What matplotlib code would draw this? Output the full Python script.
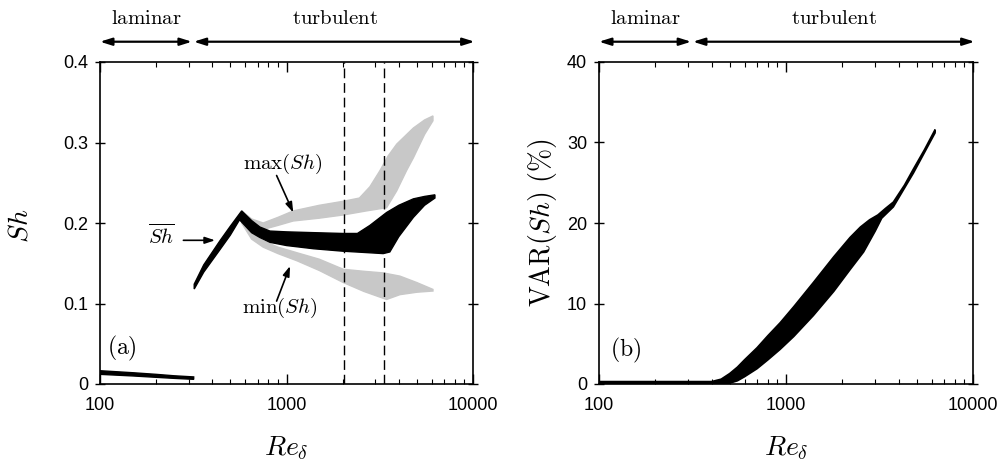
import numpy as np
import matplotlib
matplotlib.use("Agg")
import matplotlib.pyplot as plt
from matplotlib.ticker import LogLocator, NullFormatter, FixedLocator, FixedFormatter
import matplotlib.transforms as mtransforms

plt.rcParams['mathtext.fontset'] = 'cm'
plt.rcParams['font.family'] = ['Liberation Sans', 'DejaVu Sans']

# ---------------- data: panel (a) ----------------
re_lam = [100, 150, 200, 250, 318]
sh_lam_up = [0.0165, 0.0140, 0.0120, 0.0102, 0.0088]
sh_lam_lo = [0.0120, 0.0100, 0.0083, 0.0070, 0.0058]

re_mean_up = [320, 360, 440, 500, 575, 650, 720, 815, 1000, 1400, 2000, 2400, 2800, 3440, 4000, 4790, 5500, 6250]
sh_mean_up = [0.124, 0.148, 0.178, 0.196, 0.215, 0.203, 0.195, 0.190, 0.189, 0.188, 0.187, 0.187, 0.197, 0.213, 0.222, 0.230, 0.233, 0.235]
re_mean_lo = [320, 360, 440, 500, 560, 650, 720, 815, 1000, 1400, 2000, 2800, 3300, 3580, 4000, 4790, 5500, 6250]
sh_mean_lo = [0.118, 0.139, 0.167, 0.185, 0.204, 0.188, 0.182, 0.176, 0.172, 0.168, 0.165, 0.163, 0.162, 0.164, 0.183, 0.207, 0.222, 0.231]

re_max_up = [575, 650, 750, 900, 1087, 1500, 2018, 2460, 2800, 3170, 3500, 3900, 4790, 5500, 6100]
sh_max_up = [0.215, 0.205, 0.200, 0.207, 0.215, 0.222, 0.227, 0.231, 0.245, 0.265, 0.283, 0.298, 0.318, 0.328, 0.333]
re_max_lo = [575, 650, 750, 900, 1087, 1500, 2018, 2680, 3440, 3900, 4400, 4790, 5500, 6100]
sh_max_lo = [0.210, 0.196, 0.192, 0.197, 0.2025, 0.206, 0.210, 0.215, 0.219, 0.240, 0.265, 0.281, 0.310, 0.327]

re_min_up = [575, 650, 750, 900, 1140, 1500, 2018, 2600, 3300, 4060, 5000, 6100]
sh_min_up = [0.205, 0.188, 0.178, 0.170, 0.163, 0.155, 0.1425, 0.140, 0.138, 0.134, 0.126, 0.1175]
re_min_lo = [575, 650, 750, 900, 1140, 1500, 2018, 2600, 3440, 4060, 5000, 6100]
sh_min_lo = [0.200, 0.180, 0.170, 0.162, 0.153, 0.141, 0.126, 0.115, 0.105, 0.111, 0.114, 0.1155]

re_dashed = [2040, 3340]

# ---------------- data: panel (b) ----------------
re_var_up = [100, 320, 400, 450, 500, 550, 600, 700, 800, 930, 1100, 1400, 1800, 2200, 2500, 2800, 3100, 3400, 3750, 4300, 4800, 5500, 6270]
var_up = [0.3, 0.3, 0.3, 0.6, 1.3, 2.1, 3.0, 4.5, 6.0, 7.6, 9.6, 12.6, 15.8, 18.2, 19.5, 20.4, 21.0, 21.8, 22.6, 24.7, 26.7, 29.1, 31.6]
re_var_lo = [100, 320, 450, 500, 550, 600, 700, 800, 930, 1100, 1400, 1800, 2200, 2600, 3000, 3250, 3750, 4800, 6270]
var_lo = [-0.3, -0.3, -0.2, 0.1, 0.4, 0.9, 1.9, 3.0, 4.3, 5.9, 8.5, 11.5, 14.2, 16.4, 19.0, 20.6, 22.0, 26.2, 31.2]

xticks = [100, 1000, 10000]
xticklabels = ['100', '1000', '10000']
yticks_a = [0, 0.1, 0.2, 0.3, 0.4]
yticklabels_a = ['0', '0.1', '0.2', '0.3', '0.4']
yticks_b = [0, 10, 20, 30, 40]
yticklabels_b = ['0', '10', '20', '30', '40']

GRAY = '#c8c8c8'

fig = plt.figure(figsize=(10.05, 4.67), dpi=100)
W, H = 1005.0, 467.0
ax1 = fig.add_axes([100 / W, (H - 384) / H, 373 / W, 322 / H])
ax2 = fig.add_axes([599 / W, (H - 384) / H, 374 / W, 322 / H])


def band(ax, rx_up, y_up, rx_lo, y_lo, color, lw=1.0):
    xs = np.r_[np.asarray(rx_up, float), np.asarray(rx_lo, float)[::-1]]
    ys = np.r_[np.asarray(y_up, float), np.asarray(y_lo, float)[::-1]]
    ax.fill(xs, ys, facecolor=color, edgecolor=color, lw=lw, zorder=2)


def style_axes(ax, yticks, yticklabels, ylim):
    ax.set_xscale('log')
    ax.set_xlim(100, 10000)
    ax.set_ylim(*ylim)
    ax.xaxis.set_major_locator(FixedLocator(xticks))
    ax.xaxis.set_major_formatter(FixedFormatter(xticklabels))
    ax.xaxis.set_minor_locator(LogLocator(base=10, subs=np.arange(2, 10)))
    ax.xaxis.set_minor_formatter(NullFormatter())
    ax.set_yticks(yticks)
    ax.set_yticklabels(yticklabels)
    ax.tick_params(axis='x', which='major', direction='in', length=7, width=1,
                   top=True, bottom=True, labelsize=13, pad=9)
    ax.tick_params(axis='x', which='minor', direction='in', length=3.5, width=0.8,
                   top=True, bottom=True)
    ax.tick_params(axis='y', which='major', direction='inout', length=7, width=1,
                   left=True, right=True, labelsize=13, pad=5)
    for s in ax.spines.values():
        s.set_linewidth(1.2)
    # regime arrows on top
    trans = mtransforms.blended_transform_factory(ax.transData, ax.transAxes)
    ap = dict(arrowstyle='<|-|>,head_length=0.7,head_width=0.22', lw=1.6, color='k',
              shrinkA=0, shrinkB=0)
    ax.annotate('', xy=(100, 1.063), xytext=(311, 1.063), xycoords=trans,
                textcoords=trans, arrowprops=ap, annotation_clip=False)
    ax.annotate('', xy=(318, 1.063), xytext=(10200, 1.063), xycoords=trans,
                textcoords=trans, arrowprops=ap, annotation_clip=False)
    ax.text(177, 1.135, r'$\mathrm{laminar}$', transform=trans, ha='center',
            va='center', fontsize=15)
    ax.text(1820, 1.135, r'$\mathrm{turbulent}$', transform=trans, ha='center',
            va='center', fontsize=15)
    ax.text(0.5, -0.199, r'$Re_{\delta}$', transform=ax.transAxes, ha='center',
            va='center', fontsize=20)


# ---------------- panel (a) ----------------
band(ax1, re_max_up, sh_max_up, re_max_lo, sh_max_lo, GRAY)
band(ax1, re_min_up, sh_min_up, re_min_lo, sh_min_lo, GRAY)
band(ax1, re_lam, sh_lam_up, re_lam, sh_lam_lo, 'k')
band(ax1, re_mean_up, sh_mean_up, re_mean_lo, sh_mean_lo, 'k')
for r in re_dashed:
    ax1.axvline(r, color='k', lw=1.0, ls=(0, (7, 3.5)), zorder=3)

style_axes(ax1, yticks_a, yticklabels_a, (0, 0.4))
ax1.text(-0.214, 0.49, r'$Sh$', transform=ax1.transAxes, rotation=90,
         ha='center', va='center', fontsize=20)
ax1.text(0.06, 0.11, r'$\mathrm{(a)}$', transform=ax1.transAxes, ha='center',
         va='center', fontsize=17)

arr = dict(arrowstyle='-|>,head_length=0.6,head_width=0.2', lw=1.2, color='k',
           shrinkA=0, shrinkB=0)
ax1.text(961, 0.273, r'$\mathrm{max}(Sh)$', ha='center', va='center', fontsize=15)
ax1.annotate('', xy=(1087, 0.213), xytext=(885, 0.259), arrowprops=arr)
ax1.text(922, 0.095, r'$\mathrm{min}(Sh)$', ha='center', va='center', fontsize=15)
ax1.annotate('', xy=(1045, 0.1466), xytext=(885, 0.103), arrowprops=arr)
ax1.text(214, 0.184, r'$\overline{Sh}$', ha='center', va='center', fontsize=15)
ax1.annotate('', xy=(414, 0.1785), xytext=(280, 0.1785), arrowprops=arr)

# ---------------- panel (b) ----------------
band(ax2, re_var_up, var_up, re_var_lo, var_lo, 'k', lw=1.2)
style_axes(ax2, yticks_b, yticklabels_b, (0, 40))
ax2.text(-0.152, 0.5, r'$\mathrm{VAR}(Sh)\ (\%)$', transform=ax2.transAxes,
         rotation=90, ha='center', va='center', fontsize=20)
ax2.text(0.072, 0.105, r'$\mathrm{(b)}$', transform=ax2.transAxes, ha='center',
         va='center', fontsize=17)

fig.savefig('out.png', dpi=100)
